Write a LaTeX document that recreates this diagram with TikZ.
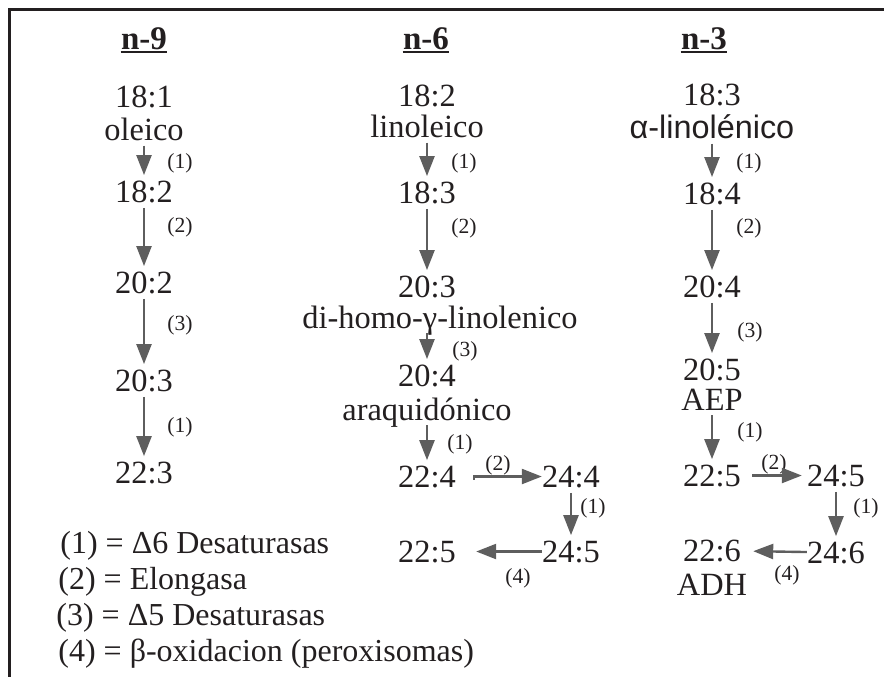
\documentclass[tikz,border=0pt]{standalone}
\usepackage{fontspec}
\setmainfont{Liberation Serif}
\newfontfamily\sansfont{Liberation Sans}
\usetikzlibrary{arrows.meta}
\definecolor{inkdark}{HTML}{231F20}
\definecolor{arrowgray}{HTML}{5E5E5E}

\begin{document}
\begin{tikzpicture}[x=0.5pt, y=-0.5pt,
    every node/.style={text=inkdark},
    head/.style={font=\fontsize{16.5}{18}\selectfont\bfseries, inner sep=0pt, anchor=base},
    acid/.style={font=\fontsize{16.2}{18}\selectfont, inner sep=0pt, anchor=base},
    enz/.style={font=\fontsize{10.8}{12}\selectfont, inner sep=0pt},
    key/.style={font=\fontsize{16}{18}\selectfont, inner sep=0pt, anchor=base west},
    conv/.style={draw=arrowgray, line width=1.2pt, -{Triangle[length=10pt,width=7.5pt]},
        shorten <=2.5pt, shorten >=2.5pt},
    uline/.style={draw=inkdark, line width=1pt},
    frame/.style={draw=inkdark, line width=1.5pt}]
    \useasboundingbox (0,0) rectangle (884,677);
    \draw[frame] (884,9) -- (9,9) -- (9,677);

    % column heads
    \node[head] (h9) at (144,49) {n-9};
    \node[head] (h6) at (426,49) {n-6};
    \node[head] (h3) at (704,49) {n-3};
    \foreach \h in {h9,h6,h3}
        \draw[uline] ([yshift=-1.3pt]\h.base west) -- ([yshift=-1.3pt]\h.base east);

    % n-9
    \node[acid] (o181) at (144,107) {18:1};
    \node[acid] (olei) at (144,140) {oleico};
    \node[acid] (o182) at (144,202) {18:2};
    \node[acid] (o202) at (144,293) {20:2};
    \node[acid] (o203) at (144,391) {20:3};
    \node[acid] (o223) at (144,483) {22:3};

    % n-6
    \node[acid] (l182) at (427,106) {18:2};
    \node[acid] (linol) at (427,137) {linoleico};
    \node[acid] (l183) at (427,203) {18:3};
    \node[acid] (l203) at (427,297) {20:3};
    \node[acid] (dihomo) at (440,328) {di-homo-γ-linolenico};
    \node[acid] (l204) at (427,386) {20:4};
    \node[acid] (araq) at (427,420) {araquidónico};
    \node[acid] (l224) at (427,487) {22:4};
    \node[acid] (l244) at (571,487) {24:4};
    \node[acid] (l245) at (571,562) {24:5};
    \node[acid] (l225) at (427,562) {22:5};

    % n-3
    \node[acid] (a183) at (712,105) {18:3};
    \node[acid] (alin) at (712,138) {\sansfont α-linolénico};
    \node[acid] (a184) at (712,204) {18:4};
    \node[acid] (a204) at (712,297) {20:4};
    \node[acid] (a205) at (712,380) {20:5};
    \node[acid] (aep) at (712,410) {AEP};
    \node[acid] (a225) at (712,486) {22:5};
    \node[acid] (a245) at (836,486) {24:5};
    \node[acid] (a246) at (836,563) {24:6};
    \node[acid] (a226) at (712,561) {22:6};
    \node[acid] (adh) at (712,595) {ADH};

    % enzyme labels
    \node[enz] (k9a) at (180,163) {(1)};
    \node[enz] (k9b) at (180,227) {(2)};
    \node[enz] (k9c) at (180,325) {(3)};
    \node[enz] (k9d) at (180,427) {(1)};
    \node[enz] (k6a) at (464,163) {(1)};
    \node[enz] (k6b) at (464,228) {(2)};
    \node[enz] (k6c) at (465,351) {(3)};
    \node[enz] (k6d) at (460,444) {(1)};
    \node[enz] (k6e) at (498,465) {(2)};
    \node[enz] (k6f) at (593,508) {(1)};
    \node[enz] (k6g) at (518,578) {(4)};
    \node[enz] (k3a) at (749,163) {(1)};
    \node[enz] (k3b) at (749,228) {(2)};
    \node[enz] (k3c) at (750,332) {(3)};
    \node[enz] (k3d) at (750,432) {(1)};
    \node[enz] (k3e) at (774,464) {(2)};
    \node[enz] (k3f) at (866,508) {(1)};
    \node[enz] (k3g) at (787,575) {(4)};

    % conversions
    \draw[conv] (olei.south) -- (o182.north);
    \draw[conv] (o182.south) -- (o202.north);
    \draw[conv] (o202.south) -- (o203.north);
    \draw[conv] (o203.south) -- (o223.north);
    \draw[conv] (linol.south) -- (l183.north);
    \draw[conv] (l183.south) -- (l203.north);
    \draw[conv, shorten <=-1pt] (l204 |- dihomo.south) -- (l204.north);
    \draw[conv, shorten <=-1pt] (araq.south) -- (l224.north);
    \draw[conv, shorten <=0pt, shorten >=0pt] ([xshift=9pt,yshift=-1.5pt]l224.east)
        -- ([xshift=9pt]l224.east) -- (l244.west);
    \draw[conv] (l244.south) -- (l245.north);
    \draw[conv, shorten <=0pt, shorten >=10pt] (l245) -- (l225);
    \draw[conv] (alin.south) -- (a184.north);
    \draw[conv] (a184.south) -- (a204.north);
    \draw[conv] (a204.south) -- (a205.north);
    \draw[conv] (aep.south) -- (a225.north);
    \draw[conv, shorten <=5.5pt] (a225) -- (a245);
    \draw[conv] (a245.south) -- (a246.north);
    \draw[conv, shorten <=0pt, shorten >=6pt] (a246) -- (a226);

    % key
    \node[key] (key1) at (60,553) {(1) = Δ6 Desaturasas};
    \node[key] (key2) at (58,589) {(2) = Elongasa};
    \node[key] (key3) at (56,625) {(3) = Δ5 Desaturasas};
    \node[key] (key4) at (58,661) {(4) = β-oxidacion (peroxisomas)};
\end{tikzpicture}
\end{document}
